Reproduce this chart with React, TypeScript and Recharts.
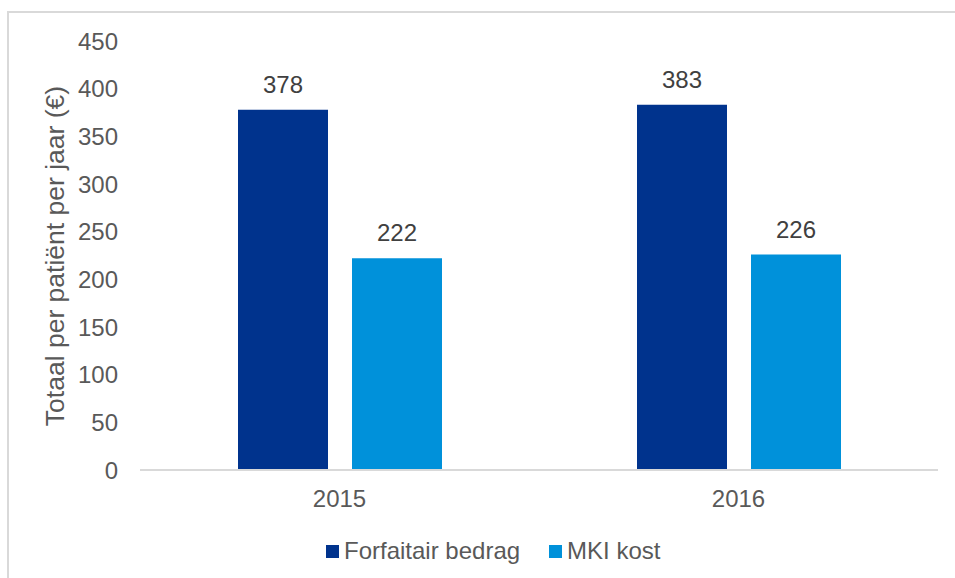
import { BarChart, Bar, XAxis, YAxis, Legend, LabelList } from 'recharts';

const years = ['2015', '2016'];
const forfaitair = [378, 383];
const mkiKost = [222, 226];
const yTicks = [0, 50, 100, 150, 200, 250, 300, 350, 400, 450];

const SERIES = [
  { key: 'forfaitair', name: 'Forfaitair bedrag', color: '#00338D' },
  { key: 'mki', name: 'MKI kost', color: '#0091DA' },
];

const data = years.map((year, i) => ({ year, forfaitair: forfaitair[i], mki: mkiKost[i] }));

const FONT = '"Liberation Sans", Arial, sans-serif';
const AXIS_TEXT = '#595959';

function YTitle() {
  return (
    <text
      x={64}
      y={256}
      transform="rotate(-90 64 256)"
      textAnchor="middle"
      fill={AXIS_TEXT}
      fontSize={26.5}
      fontFamily={FONT}
    >
      Totaal per patiënt per jaar (€)
    </text>
  );
}

function LegendBox() {
  return (
    <div style={{ height: 30, display: 'flex', alignItems: 'center', paddingLeft: 326, fontFamily: FONT, fontSize: 24, color: AXIS_TEXT }}>
      {SERIES.map((s, i) => (
        <div key={s.key} style={{ display: 'flex', alignItems: 'center', marginRight: i === 0 ? 29 : 0 }}>
          <span style={{ width: 13, height: 13, background: s.color, display: 'inline-block', marginRight: 5 }} />
          <span style={{ lineHeight: '30px' }}>{s.name}</span>
        </div>
      ))}
    </div>
  );
}

export default function App() {
  return (
    <div style={{ position: 'absolute', left: 0, top: 0, width: 955, height: 578, overflow: 'hidden', background: '#fff' }}>
      <div style={{ position: 'absolute', left: 7, top: 11, width: 1000, height: 600, borderLeft: '2px solid #d9d9d9', borderTop: '2px solid #d9d9d9' }} />
      <div style={{ position: 'absolute', left: 0, top: 0 }}>
        <BarChart
          width={955}
          height={578}
          data={data}
          margin={{ top: 41, right: 17, bottom: 12, left: 0 }}
          barSize={90}
          barGap={24}
        >
          <XAxis
            dataKey="year"
            height={66}
            tickLine={false}
            tickSize={0}
            tickMargin={20}
            axisLine={{ stroke: '#d9d9d9', strokeWidth: 2 }}
            tick={{ fill: AXIS_TEXT, fontSize: 24, fontFamily: FONT }}
          />
          <YAxis
            width={140}
            domain={[0, 450]}
            ticks={yTicks}
            interval={0}
            axisLine={false}
            tickLine={false}
            tickSize={0}
            tickMargin={22}
            tick={{ fill: AXIS_TEXT, fontSize: 24, fontFamily: FONT }}
            label={<YTitle />}
          />
          <Legend verticalAlign="bottom" content={<LegendBox />} />
          {SERIES.map((s) => (
            <Bar key={s.key} dataKey={s.key} name={s.name} fill={s.color} isAnimationActive={false}>
              <LabelList dataKey={s.key} position="top" offset={17} fill="#404040" fontSize={24} fontFamily={FONT} />
            </Bar>
          ))}
        </BarChart>
      </div>
    </div>
  );
}
